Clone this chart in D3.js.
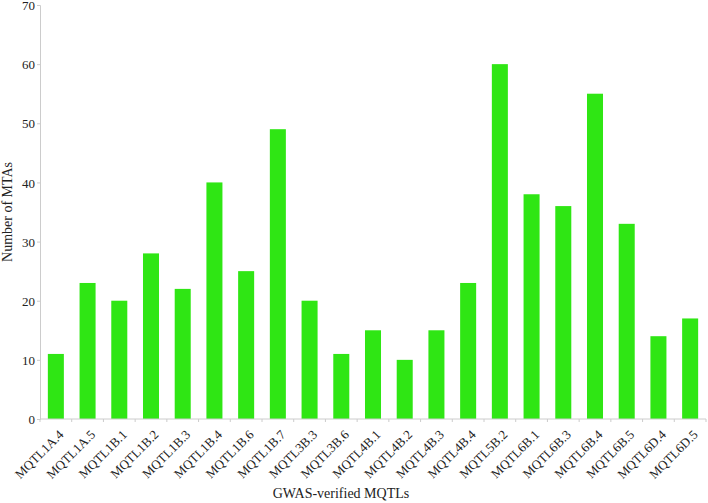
<!DOCTYPE html>
<html lang="en">
<head>
<meta charset="utf-8">
<title>GWAS-verified MQTLs</title>
<script src="https://cdn.jsdelivr.net/npm/d3@7"></script>
<style>
  body { margin: 0; background: #fff; }
  text { font-family: "Liberation Serif", "Times New Roman", serif; fill: #222; }
</style>
</head>
<body>
<script>
// data
var mqtls = ["MQTL1A.4", "MQTL1A.5", "MQTL1B.1", "MQTL1B.2", "MQTL1B.3", "MQTL1B.4", "MQTL1B.6",
             "MQTL1B.7", "MQTL3B.3", "MQTL3B.6", "MQTL4B.1", "MQTL4B.2", "MQTL4B.3", "MQTL4B.4",
             "MQTL5B.2", "MQTL6B.1", "MQTL6B.3", "MQTL6B.4", "MQTL6B.5", "MQTL6D.4", "MQTL6D.5"];
var mtas = [11, 23, 20, 28, 22, 40, 25, 49, 20, 11, 15, 10, 15, 23, 60, 38, 36, 55, 33, 14, 17];
var yTicks = [0, 10, 20, 30, 40, 50, 60, 70];

var w = 708, h = 503;
// plot area (window.top is reserved, so prefixed names)
var pLeft = 40, pRight = 706, pTop = 5, pBottom = 419;

var svg = d3.select("body").append("svg")
    .attr("width", w)
    .attr("height", h);

var x = d3.scaleBand()
    .domain(mqtls)
    .range([pLeft, pRight])
    .paddingInner(0.495)
    .paddingOuter(0.2475);

var y = d3.scaleLinear()
    .domain([0, 70])
    .range([pBottom, pTop]);

// bars
svg.selectAll("rect.bar")
    .data(mtas)
    .enter()
    .append("rect")
    .attr("class", "bar")
    .attr("x", function(d, i) { return x(mqtls[i]); })
    .attr("y", function(d) { return y(d); })
    .attr("width", x.bandwidth())
    .attr("height", function(d) { return y(0) - y(d); })
    .attr("fill", "#2fe614");

// y axis
var yAxis = d3.axisLeft(y).tickValues(yTicks).tickSize(3).tickPadding(2);
var gy = svg.append("g")
    .attr("transform", "translate(" + pLeft + ",0)")
    .call(yAxis);
gy.select(".domain").attr("stroke", "#ccc");
gy.selectAll(".tick line").attr("stroke", "#ccc");
gy.selectAll(".tick text")
    .style("font-family", "Liberation Serif, serif")
    .style("font-size", "13px")
    .attr("dy", "0.36em")
    .attr("fill", "#222");

// x axis: ticks sit between the bars
var gx = svg.append("g")
    .attr("transform", "translate(0," + pBottom + ")");
gx.append("line")
    .attr("x1", pLeft).attr("x2", pRight)
    .attr("stroke", "#ccc");
var bounds = d3.range(mqtls.length + 1).map(function(i) { return pLeft + i * x.step(); });
gx.selectAll("line.tk")
    .data(bounds)
    .enter()
    .append("line")
    .attr("class", "tk")
    .attr("x1", function(d) { return d; })
    .attr("x2", function(d) { return d; })
    .attr("y1", 0).attr("y2", 3)
    .attr("stroke", "#ccc");

gx.selectAll("text.lbl")
    .data(mqtls)
    .enter()
    .append("text")
    .attr("class", "lbl")
    .attr("text-anchor", "end")
    .attr("transform", function(d) {
        return "translate(" + (x(d) + x.bandwidth() / 2 + 2) + ",10) rotate(-45)";
    })
    .attr("dy", "0.7em")
    .style("font-size", "13px")
    .text(function(d) { return d; });

// axis titles
svg.append("text")
    .attr("x", 341)
    .attr("y", 498)
    .attr("text-anchor", "middle")
    .style("font-size", "14px")
    .text("GWAS-verified MQTLs");

svg.append("text")
    .attr("transform", "translate(12," + ((pTop + pBottom) / 2) + ") rotate(-90)")
    .attr("text-anchor", "middle")
    .style("font-size", "14px")
    .text("Number of MTAs");
</script>
</body>
</html>
